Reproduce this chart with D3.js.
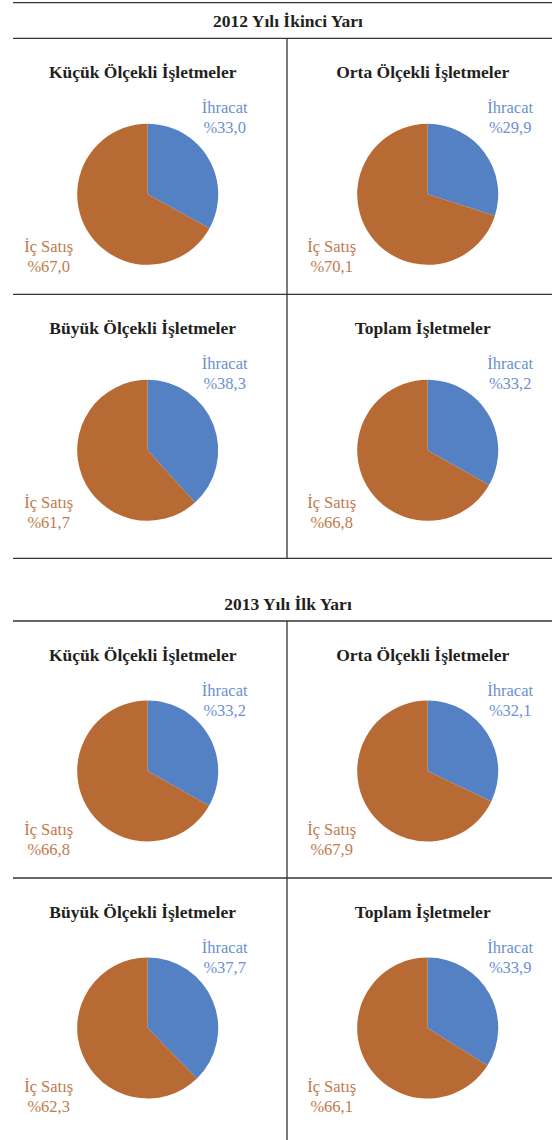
<!DOCTYPE html>
<html>
<head>
<meta charset="utf-8">
<script src="https://cdn.jsdelivr.net/npm/d3@7"></script>
<style>
  body { margin: 0; background: #fff; }
</style>
</head>
<body>
<svg id="chart"></svg>
<script>
// data
const periods = ["2012 Yılı İkinci Yarı", "2013 Yılı İlk Yarı"];
const groups = ["Küçük Ölçekli İşletmeler", "Orta Ölçekli İşletmeler",
                "Büyük Ölçekli İşletmeler", "Toplam İşletmeler"];
const sliceNames = ["İhracat", "İç Satış"];
const ihracat2012 = [33.0, 29.9, 38.3, 33.2];
const icSatis2012 = [67.0, 70.1, 61.7, 66.8];
const ihracat2013 = [33.2, 32.1, 37.7, 33.9];
const icSatis2013 = [66.8, 67.9, 62.3, 66.1];

const ihracat = [ihracat2012, ihracat2013];
const icSatis = [icSatis2012, icSatis2013];

const width = 552, height = 1140;
const left = 13, divX = 287;
const radius = 70.5;
const serif = "'Liberation Serif', 'Times New Roman', serif";

// block geometry: heading rule, row tops, block bottom
const blocks = [
  { topRule: 2.7, headRule: 38.3, rows: [38.3, 294.3], bottom: 558.3, pieDy: 156 },
  { topRule: null, headRule: 621, rows: [621, 878], bottom: 1140, pieDy: 150 }
];

const pieX = [147.7, 427.7];

const fmt = d3.formatLocale({ decimal: ",", thousands: ".", grouping: [3], currency: ["", ""] }).format(".1f");

const color = d3.scaleOrdinal().domain(sliceNames).range(["#5481C4", "#B86A34"]);
const labelColor = d3.scaleOrdinal().domain(sliceNames).range(["#6C90D1", "#C17A4E"]);

const pie = d3.pie().sort(null).value(d => d.value);
const arc = d3.arc().innerRadius(0).outerRadius(radius);

const svg = d3.select('#chart')
  .attr('width', width)
  .attr('height', height)
  .style('font-family', serif);

blocks.forEach((b, bi) => {
  const g = svg.append('g');

  // rules
  const hRules = [b.headRule, b.rows[1]];
  if (b.topRule !== null) hRules.push(b.topRule);
  if (bi === 0) hRules.push(b.bottom);
  hRules.forEach(y => {
    g.append('line').attr('x1', left).attr('x2', width)
      .attr('y1', y).attr('y2', y)
      .attr('stroke', '#333').attr('stroke-width', 1.3);
  });
  g.append('line').attr('x1', divX).attr('x2', divX)
    .attr('y1', b.headRule).attr('y2', b.bottom)
    .attr('stroke', '#333').attr('stroke-width', 1.3);

  // heading
  g.append('text')
    .attr('x', 288).attr('y', b.headRule - 11)
    .attr('text-anchor', 'middle')
    .style('font-family', serif)
    .attr('font-size', 17.5).attr('font-weight', 'bold')
    .attr('fill', '#231F20')
    .text(periods[bi]);

  groups.forEach((name, i) => {
    const col = i % 2, row = Math.floor(i / 2);
    const top = b.rows[row];
    const cx = pieX[col];
    const cy = top + b.pieDy;

    const data = [
      { name: sliceNames[0], value: ihracat[bi][i] },
      { name: sliceNames[1], value: icSatis[bi][i] }
    ];

    const p = g.append('g');

    p.append('text')
      .attr('x', cx - 5).attr('y', top + 40)
      .attr('text-anchor', 'middle')
      .style('font-family', serif)
      .attr('font-size', 17.5).attr('font-weight', 'bold')
      .attr('fill', '#231F20')
      .text(name);

    p.append('g')
      .attr('transform', `translate(${cx},${cy})`)
      .selectAll('path')
      .data(pie(data)).enter()
      .append('path')
      .attr('d', arc)
      .attr('fill', d => color(d.data.name));

    // labels: export upper right, domestic lower left
    const labelPos = [
      { x: cx + (col === 0 ? 77 : 82.5), y: top + 75 },
      { x: cx - (col === 0 ? 99 : 96), y: top + 214 }
    ];
    data.forEach((d, k) => {
      const t = p.append('text')
        .attr('text-anchor', 'middle')
        .style('font-family', serif)
        .attr('font-size', 16.5)
        .attr('fill', labelColor(d.name));
      t.append('tspan').attr('x', labelPos[k].x).attr('y', labelPos[k].y).text(d.name);
      t.append('tspan').attr('x', labelPos[k].x).attr('y', labelPos[k].y + 19.5).text('%' + fmt(d.value));
    });
  });
});
</script>
</body>
</html>
